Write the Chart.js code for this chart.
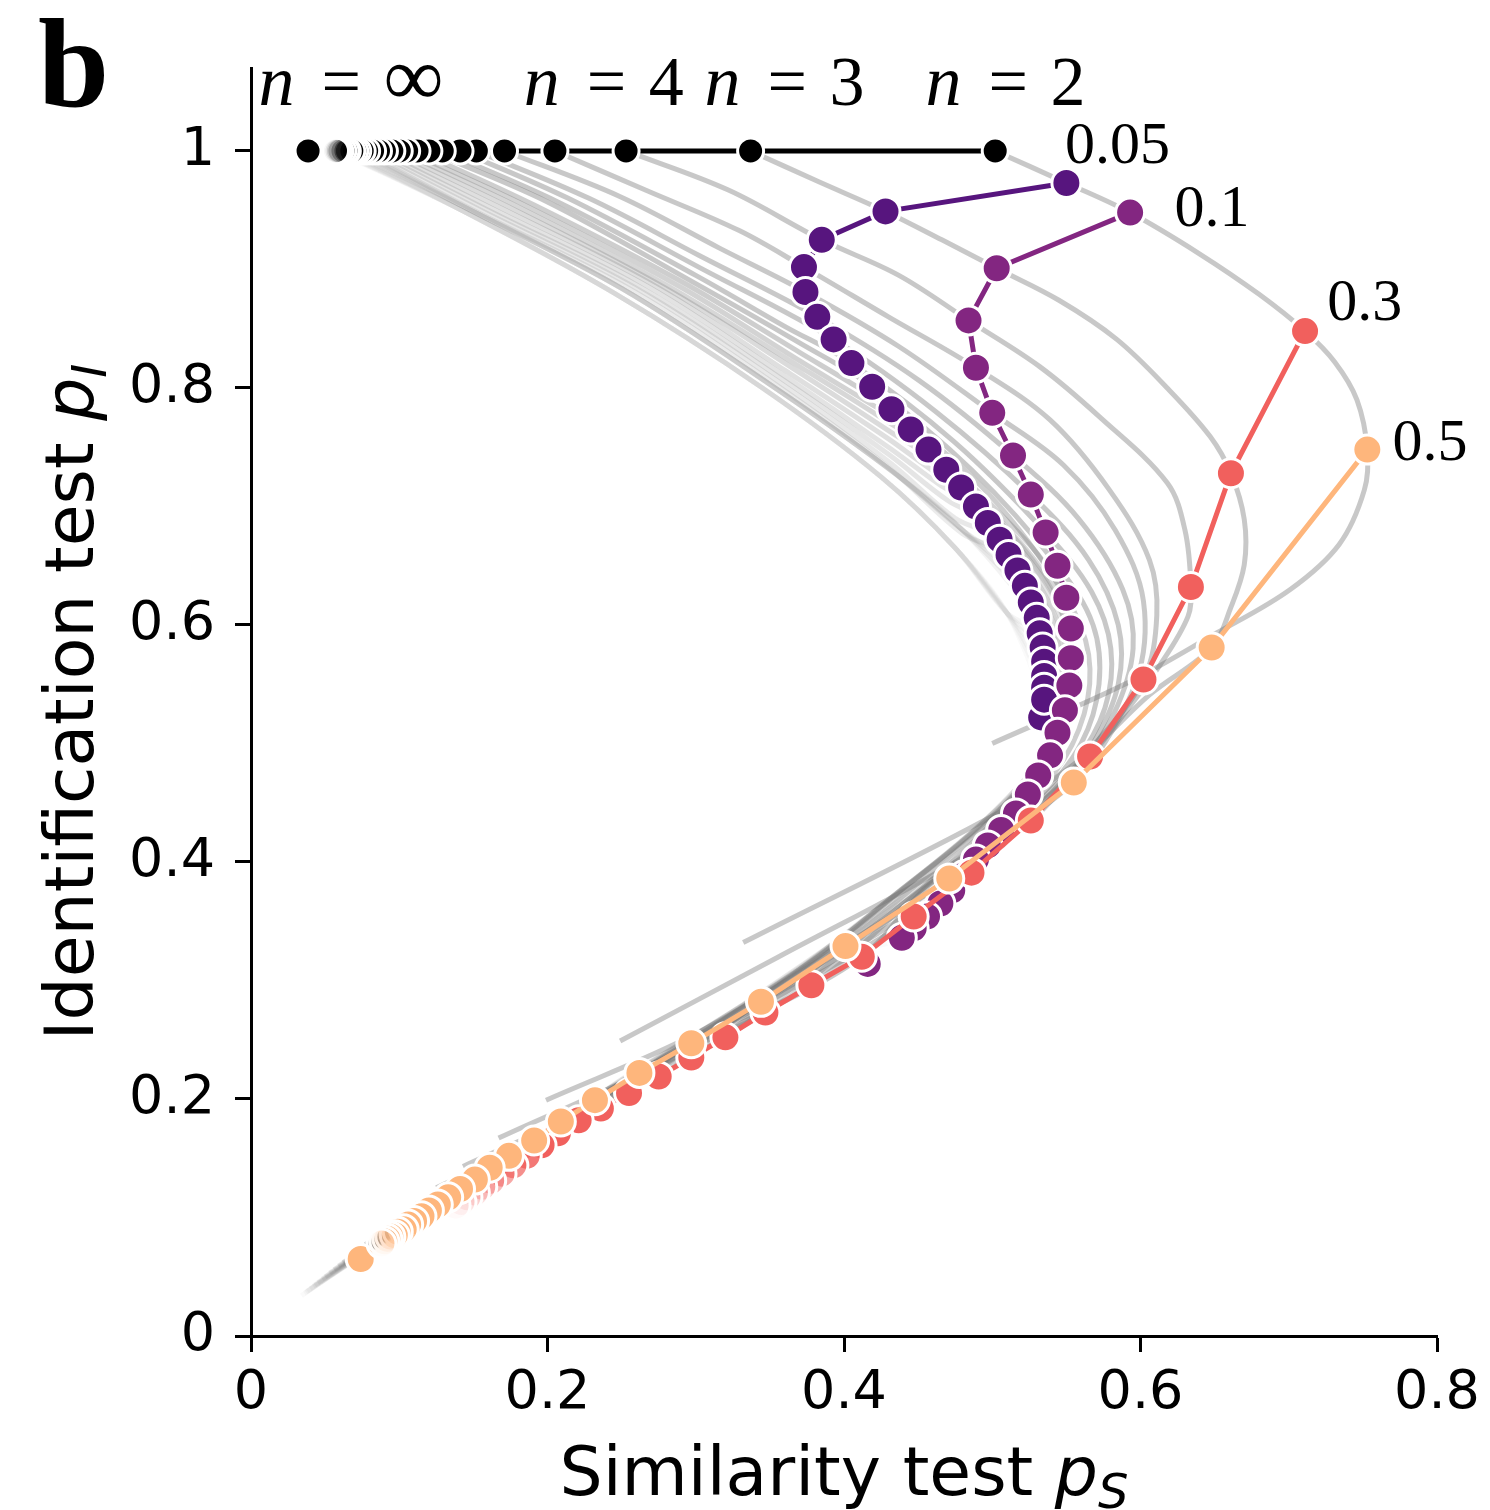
<!DOCTYPE html>
<html>
<head>
<meta charset="utf-8">
<script src="https://cdn.jsdelivr.net/npm/chart.js@4.4.1/dist/chart.umd.min.js"></script>
<style>
  html, body { margin: 0; padding: 0; background: #fff; }
  canvas { display: block; }
</style>
</head>
<body>
<canvas id="c" width="1490" height="1510"></canvas>
<script>
// ---- data: one point per number of alternatives n = 2 ... 29 ----
const nValues = [2,3,4,5,6,7,8,9,10,11,12,13,14,15,16,17,18,19,20,21,22,23,24,25,26,27,28,29];

// noise 0 (black row at p_I = 1)
const psClean = [0.502,0.337,0.253,0.205,0.171,0.152,0.141,0.129,0.120,0.112,0.105,0.100,0.095,0.090,0.086,0.082,0.078,0.075,0.072,0.070,0.068,0.065,0.064,0.062,0.060,0.059,0.058,0.057];
const piClean = [1,1,1,1,1,1,1,1,1,1,1,1,1,1,1,1,1,1,1,1,1,1,1,1,1,1,1,1];

// noise 0.05
const ps005 = [0.550,0.428,0.385,0.373,0.374,0.382,0.393,0.405,0.419,0.432,0.445,0.457,0.469,0.479,0.489,0.497,0.505,0.511,0.517,0.522,0.526,0.530,0.532,0.534,0.535,0.535,0.535,0.535];
const pi005 = [0.973,0.949,0.925,0.902,0.881,0.860,0.841,0.821,0.801,0.782,0.765,0.748,0.731,0.716,0.700,0.686,0.672,0.659,0.646,0.633,0.619,0.606,0.593,0.581,0.569,0.557,0.547,0.537];

// noise 0.1
const ps01 = [0.593,0.503,0.484,0.489,0.500,0.514,0.526,0.536,0.544,0.550,0.553,0.553,0.552,0.549,0.544,0.539,0.531,0.524,0.516,0.506,0.497,0.489,0.481,0.473,0.465,0.456,0.447,0.439];
const pi01 = [0.948,0.901,0.857,0.817,0.779,0.743,0.710,0.678,0.650,0.623,0.597,0.572,0.549,0.528,0.509,0.490,0.473,0.457,0.441,0.427,0.414,0.402,0.389,0.376,0.365,0.354,0.344,0.336];

// noise 0.3
const ps03 = [0.711,0.661,0.634,0.602,0.566,0.526,0.486,0.447,0.412,0.378,0.347,0.320,0.297,0.275,0.255,0.236,0.221,0.207,0.196,0.186,0.177,0.169,0.162,0.156,0.151,0.146,0.142,0.138];
const pi03 = [0.848,0.728,0.632,0.554,0.489,0.435,0.391,0.354,0.320,0.296,0.273,0.252,0.235,0.219,0.205,0.192,0.182,0.171,0.161,0.152,0.144,0.137,0.131,0.126,0.121,0.117,0.113,0.110];

// noise 0.5
const ps05 = [0.753,0.648,0.555,0.471,0.401,0.344,0.297,0.262,0.232,0.209,0.191,0.174,0.161,0.151,0.141,0.133,0.126,0.120,0.115,0.110,0.106,0.103,0.099,0.097,0.094,0.092,0.090,0.088];
const pi05 = [0.748,0.581,0.467,0.386,0.329,0.282,0.247,0.222,0.199,0.181,0.165,0.152,0.142,0.132,0.124,0.117,0.111,0.106,0.101,0.097,0.094,0.090,0.088,0.085,0.084,0.082,0.080,0.078];

// limiting points (n = infinity)
const infClean = [0.0385, 1];
const inf005 = [0.533, 0.522];
const inf01 = [0.416, 0.314];
const inf05 = [0.074, 0.065];

// each grey curve follows one n as the noise grows from 0 to 1;
// via points between the plotted noise levels, then the curve end
const viaA = [
  [],
  [[0.383,0.974]],
  [[0.322,0.967]],
  [[0.268,0.966],[0.329,0.933]],
  [[0.248,0.962],[0.316,0.918]],
  [[0.228,0.960],[0.302,0.912]],
  [[0.214,0.960],[0.302,0.902]],
  [[0.207,0.957],[0.300,0.895],[0.360,0.852]],
  [[0.200,0.957],[0.300,0.888],[0.370,0.838]],
  [[0.190,0.955],[0.290,0.890],[0.370,0.830],[0.410,0.800]],
  [[0.185,0.954],[0.290,0.885],[0.370,0.823],[0.420,0.785]],
  [[0.180,0.953],[0.280,0.887],[0.370,0.818],[0.425,0.775]],
  [[0.175,0.952],[0.280,0.884],[0.370,0.813],[0.430,0.764]],
  [[0.170,0.951],[0.270,0.888],[0.360,0.815],[0.430,0.757],[0.460,0.730]],
  [[0.165,0.950],[0.270,0.884],[0.360,0.810],[0.430,0.750],[0.465,0.718]],
  [[0.160,0.950],[0.260,0.887],[0.360,0.806],[0.430,0.744],[0.470,0.705]],
  [[0.155,0.950],[0.260,0.884],[0.355,0.806],[0.430,0.738],[0.475,0.690]],
  [[0.150,0.950],[0.255,0.884],[0.355,0.802],[0.430,0.733],[0.480,0.677]],
  [[0.148,0.950],[0.250,0.884],[0.350,0.803],[0.430,0.732],[0.480,0.680]],
  [[0.148,0.950],[0.250,0.884],[0.350,0.803],[0.430,0.732],[0.480,0.680]],
  [[0.148,0.950],[0.250,0.884],[0.350,0.803],[0.430,0.732],[0.480,0.680]],
  [[0.148,0.950],[0.250,0.884],[0.350,0.803],[0.430,0.732],[0.480,0.680]],
  [[0.145,0.948],[0.245,0.880],[0.345,0.800],[0.425,0.725],[0.475,0.665],[0.510,0.610]],
  [[0.145,0.948],[0.245,0.880],[0.345,0.800],[0.425,0.725],[0.475,0.665],[0.510,0.610]],
  [[0.145,0.948],[0.245,0.880],[0.345,0.800],[0.425,0.725],[0.475,0.665],[0.510,0.610]],
  [[0.145,0.948],[0.245,0.880],[0.345,0.800],[0.425,0.725],[0.475,0.665],[0.510,0.610]],
  [[0.145,0.948],[0.245,0.880],[0.345,0.800],[0.425,0.725],[0.475,0.665],[0.510,0.610]],
  [[0.145,0.948],[0.245,0.880],[0.345,0.800],[0.425,0.725],[0.475,0.665],[0.510,0.610]]
];
const viaB = [
  [],
  [[0.466,0.925]],
  [[0.437,0.895]],
  [[0.430,0.860]],
  [[0.437,0.835]],
  [[0.451,0.806]],
  [[0.462,0.780]],
  [[0.474,0.755]],
  [[0.486,0.731]],
  [[0.498,0.710]],
  [[0.510,0.688],[0.540,0.643]],
  [[0.520,0.668],[0.547,0.617]],
  [[0.527,0.655],[0.550,0.600]],
  [[0.532,0.643],[0.553,0.585]],
  [[0.535,0.633],[0.553,0.570]],
  [[0.537,0.622],[0.552,0.558]],
  [[0.540,0.612],[0.551,0.548],[0.546,0.505]],
  [[0.541,0.603],[0.550,0.540],[0.542,0.495]],
  [[0.542,0.595],[0.549,0.532],[0.537,0.482]],
  [[0.543,0.588],[0.548,0.526],[0.532,0.470]],
  [[0.544,0.580],[0.547,0.520],[0.526,0.458]],
  [[0.545,0.572],[0.546,0.514],[0.520,0.447]],
  [[0.546,0.560],[0.544,0.506],[0.514,0.436]],
  [[0.546,0.550],[0.542,0.498],[0.508,0.426]],
  [[0.546,0.540],[0.540,0.490],[0.502,0.416]],
  [[0.545,0.530],[0.537,0.482],[0.496,0.406]],
  [[0.544,0.520],[0.534,0.474],[0.490,0.397]],
  [[0.543,0.512],[0.530,0.466],[0.484,0.388]]
];
const viaC = [
  [[0.640,0.913],[0.680,0.879]],
  [[0.545,0.874],[0.584,0.841],[0.618,0.800],[0.647,0.759]],
  [[0.532,0.818],[0.572,0.776],[0.618,0.720],[0.630,0.680]],
  [[0.539,0.773],[0.579,0.714],[0.606,0.655],[0.611,0.608]],
  [[0.548,0.735],[0.583,0.680],[0.602,0.620],[0.597,0.552]],
  [[0.558,0.690],[0.588,0.630],[0.595,0.580],[0.582,0.525],[0.555,0.475]],
  [[0.565,0.655],[0.585,0.600],[0.585,0.550],[0.568,0.500],[0.540,0.455],[0.512,0.420]],
  [[0.567,0.628],[0.580,0.580],[0.576,0.530],[0.555,0.482],[0.522,0.440],[0.485,0.400]],
  [[0.568,0.600],[0.572,0.550],[0.560,0.500],[0.532,0.455],[0.495,0.415],[0.455,0.378]],
  [[0.565,0.575],[0.562,0.525],[0.542,0.475],[0.505,0.430],[0.460,0.385]],
  [[0.556,0.550],[0.540,0.500],[0.510,0.447],[0.470,0.397],[0.410,0.335]],
  [[0.552,0.530],[0.530,0.482],[0.500,0.437],[0.450,0.382],[0.390,0.320]],
  [[0.545,0.510],[0.520,0.467],[0.480,0.418],[0.430,0.367],[0.370,0.304]],
  [[0.538,0.490],[0.510,0.452],[0.470,0.408],[0.420,0.358],[0.350,0.290]],
  [[0.525,0.470],[0.490,0.428],[0.440,0.378],[0.380,0.318],[0.320,0.268]],
  [[0.515,0.456],[0.480,0.418],[0.430,0.368],[0.370,0.308],[0.300,0.252]],
  [[0.505,0.442],[0.460,0.397],[0.400,0.338],[0.330,0.278],[0.280,0.238]],
  [[0.490,0.424],[0.440,0.378],[0.380,0.318],[0.310,0.262],[0.260,0.223]],
  [[0.480,0.410],[0.430,0.365],[0.360,0.302],[0.290,0.247],[0.240,0.208]],
  [[0.470,0.398],[0.420,0.354],[0.350,0.293],[0.280,0.239],[0.230,0.199]],
  [[0.460,0.386],[0.400,0.335],[0.330,0.276],[0.260,0.223],[0.220,0.191]],
  [[0.450,0.375],[0.390,0.326],[0.320,0.268],[0.250,0.215],[0.210,0.183]],
  [[0.440,0.366],[0.380,0.316],[0.310,0.260],[0.240,0.207],[0.200,0.175]],
  [[0.430,0.356],[0.370,0.308],[0.300,0.252],[0.230,0.199],[0.195,0.170]],
  [[0.420,0.347],[0.360,0.300],[0.290,0.244],[0.225,0.195],[0.190,0.166]],
  [[0.410,0.338],[0.350,0.291],[0.280,0.237],[0.220,0.191],[0.185,0.162]],
  [[0.400,0.330],[0.340,0.283],[0.270,0.229],[0.215,0.187],[0.180,0.158]],
  [[0.390,0.322],[0.330,0.275],[0.260,0.221],[0.210,0.183],[0.175,0.154]]
];
const viaD = [
  [[0.731,0.822],[0.746,0.790]],
  [[0.670,0.689],[0.670,0.651],[0.661,0.615]],
  [[0.632,0.607],[0.613,0.566],[0.586,0.520]],
  [[0.566,0.495],[0.518,0.431]],
  [[0.505,0.423],[0.457,0.381]],
  [[0.437,0.357]],
  [[0.397,0.320]],
  [[0.356,0.287]],
  [[0.329,0.263]],
  [[0.300,0.251]],
  [[0.270,0.229]],
  [[0.245,0.210]],
  [[0.225,0.194]],
  [[0.210,0.182]],
  [[0.195,0.170]],
  [[0.182,0.160]],
  [[0.172,0.152]],
  [[0.163,0.144]],
  [[0.155,0.137]],
  [],[],[],[],[],[],[],[],[]
];
const viaE = [
  [[0.751,0.714],[0.734,0.668],[0.701,0.630],[0.651,0.593],[0.591,0.551]],
  [[0.606,0.541],[0.559,0.486],[0.505,0.442]],
  [[0.478,0.402],[0.356,0.320]],
  [[0.400,0.330],[0.300,0.255]],
  [[0.280,0.233]],
  [[0.240,0.200]],
  [[0.210,0.176]],
  [[0.190,0.160]],
  [[0.170,0.146]],
  [],[],[],[],[],[],[],[],[],[],[],[],[],[],[],[],[],[],[]
];
const curveEnd = [0.500,0.332,0.249,0.199,0.167,0.143,0.125,0.111,0.100,0.091,0.083,0.077,0.071,0.067,0.062,0.059,0.056,0.053,0.050,0.048,0.045,0.043,0.042,0.040,0.038,0.037,0.036,0.034];

// axis ticks and text
const tickX = [0, 0.2, 0.4, 0.6, 0.8];
const tickY = [0, 0.2, 0.4, 0.6, 0.8, 1];
const noiseLabels = ['0.05', '0.1', '0.3', '0.5'];
const noiseLabelX = [0.549, 0.623, 0.726, 0.770];
const noiseLabelY = [0.990, 0.937, 0.857, 0.739];
const nTagText = ['\u221E', '4', '3', '2'];
const nTagX = [0.007, 0.186, 0.308, 0.457];
const nTagY = 1.039;

// ---- styling ----
const colClean = '#000000';
const col005 = '#57157e';
const col01 = '#832681';
const col03 = '#f1605d';
const col05 = '#feb67c';
// markers for the largest n are drawn increasingly transparent
const tailFade = [1,1,1,1,1,1,1,1,1,1,1,1,1,1,1,1,1,1,1,0.85,0.7,0.55,0.42,0.3,0.2,0.12,0.07,0.03];
// grey curves lighten gradually with n
const greyFade = [1,1,1,1,1,1,1,1,1,0.9,0.8,0.72,0.65,0.58,0.52,0.46,0.41,0.36,0.32,0.28,0.25,0.22,0.19,0.16,0.14,0.12,0.1,0.08];

function rgba(hex, a) {
  const v = parseInt(hex.slice(1), 16);
  return `rgba(${(v >> 16) & 255},${(v >> 8) & 255},${v & 255},${a})`;
}
function pts(xs, ys) { return xs.map((x, i) => ({ x: x, y: ys[i] })); }

function greyPath(i) {
  const seq = [[psClean[i], piClean[i]], ...viaA[i], [ps005[i], pi005[i]], ...viaB[i],
    [ps01[i], pi01[i]], ...viaC[i], [ps03[i], pi03[i]], ...viaD[i],
    [ps05[i], pi05[i]], ...viaE[i], [curveEnd[i], curveEnd[i]]];
  return seq.map(p => ({ x: p[0], y: p[1] }));
}

const datasets = [];
nValues.forEach((n, i) => {
  datasets.push({
    label: 'n=' + n,
    data: greyPath(i),
    showLine: true,
    borderColor: rgba('#6e6e6e', 0.38 * greyFade[i]),
    borderWidth: 5,
    tension: 0.35,
    pointRadius: 0,
    order: 20
  });
});

function series(label, xs, ys, col, faded, order, radius, lw) {
  return {
    label: label,
    data: pts(xs, ys),
    showLine: true,
    borderColor: col,
    borderWidth: lw,
    segment: faded ? { borderColor: c => rgba(col, tailFade[c.p1DataIndex]) } : undefined,
    pointRadius: radius,
    pointBackgroundColor: xs.map((_, i) => faded ? rgba(col, tailFade[i]) : col),
    pointBorderColor: '#ffffff',
    pointBorderWidth: 3,
    tension: 0,
    order: order
  };
}
function limitPoint(label, p, col, order, radius) {
  return {
    label: label,
    data: [{ x: p[0], y: p[1] }],
    showLine: false,
    pointRadius: radius,
    pointBackgroundColor: col,
    pointBorderColor: '#ffffff',
    pointBorderWidth: 3,
    order: order
  };
}

datasets.push(series('0.05', ps005, pi005, col005, false, 5, 14.5, 5));
datasets.push(limitPoint('0.05 inf', inf005, col005, 5, 14.5));
datasets.push(series('0.1', ps01, pi01, col01, false, 4, 14.5, 5));
datasets.push(limitPoint('0.1 inf', inf01, col01, 4, 14.5));
datasets.push(series('0.3', ps03, pi03, col03, true, 3, 14.5, 5));
datasets.push(series('0.5', ps05, pi05, col05, true, 2, 14.5, 5));
datasets.push(limitPoint('0.5 inf', inf05, col05, 2, 14.5));
datasets.push(series('0', psClean, piClean, colClean, true, 1, 13, 5));
datasets.push(limitPoint('0 inf', infClean, colClean, 1, 13));

// ---- text drawn on top of the plot ----
const textLayer = {
  id: 'textLayer',
  afterDraw(chart) {
    const c = chart.ctx, xs = chart.scales.x, ys = chart.scales.y;
    c.save();
    c.fillStyle = '#000';
    c.textBaseline = 'alphabetic';
    c.textAlign = 'left';

    // panel letter
    c.font = 'bold 128px "Liberation Serif"';
    c.fillText('b', 38, 106);

    // n = ... labels above the noise-free row
    nTagText.forEach((t, i) => {
      const x0 = xs.getPixelForValue(nTagX[i]);
      const y0 = ys.getPixelForValue(nTagY);
      c.font = 'italic 72px "Liberation Serif"';
      c.fillText('n', x0 - 3, y0);
      c.font = '70px "Liberation Serif"';
      c.fillText('=', x0 + 60, y0);
      c.font = (t === '\u221E' ? '84px' : '70px') + ' "Liberation Serif"';
      c.fillText(t, x0 + 122, y0);
    });

    // noise level labels
    c.font = '60px "Liberation Serif"';
    noiseLabels.forEach((t, i) => {
      c.fillText(t, xs.getPixelForValue(noiseLabelX[i]), ys.getPixelForValue(noiseLabelY[i]));
    });

    // axis titles with italic subscripted symbols
    function title(main, sym, sub, cx, cy) {
      c.font = '68px "DejaVu Sans"';
      const w1 = c.measureText(main).width;
      c.font = 'italic 68px "DejaVu Sans"';
      const w2 = c.measureText(sym).width;
      c.font = 'italic 48px "DejaVu Sans"';
      const w3 = c.measureText(sub).width;
      let x = cx - (w1 + w2 + w3) / 2;
      c.font = '68px "DejaVu Sans"';
      c.fillText(main, x, cy); x += w1;
      c.font = 'italic 68px "DejaVu Sans"';
      c.fillText(sym, x, cy); x += w2;
      c.font = 'italic 48px "DejaVu Sans"';
      c.fillText(sub, x, cy + 13);
    }
    title('Similarity test ', 'p', 'S', (xs.left + xs.right) / 2, 1495);
    c.save();
    c.translate(93, (ys.top + ys.bottom) / 2);
    c.rotate(-Math.PI / 2);
    title('Identification test ', 'p', 'I', 0, 0);
    c.restore();

    c.restore();
  }
};

const fmt = v => (v === 0 ? '0' : v === 1 ? '1' : v.toFixed(1));

new Chart(document.getElementById('c').getContext('2d'), {
  type: 'scatter',
  data: { datasets: datasets },
  options: {
    responsive: false,
    animation: false,
    devicePixelRatio: 1,
    layout: { padding: { top: 68, right: 53, left: 0, bottom: 0 } },
    plugins: { legend: { display: false }, tooltip: { enabled: false } },
    elements: { line: { cubicInterpolationMode: 'default' } },
    scales: {
      x: {
        type: 'linear', min: 0, max: 0.8,
        afterBuildTicks: s => { s.ticks = tickX.map(v => ({ value: v })); },
        afterFit: s => { s.height = 174; },
        grid: { drawOnChartArea: false, drawTicks: true, tickLength: 16, tickWidth: 3, tickColor: '#000' },
        border: { display: true, color: '#000', width: 3 },
        ticks: { font: { family: 'DejaVu Sans', size: 54 }, color: '#000', padding: 10, maxRotation: 0, callback: fmt }
      },
      y: {
        type: 'linear', min: 0, max: 1.07,
        afterBuildTicks: s => { s.ticks = tickY.map(v => ({ value: v })); },
        afterFit: s => { s.width = 251; },
        grid: { drawOnChartArea: false, drawTicks: true, tickLength: 16, tickWidth: 3, tickColor: '#000' },
        border: { display: true, color: '#000', width: 3 },
        ticks: { font: { family: 'DejaVu Sans', size: 54 }, color: '#000', padding: 20, callback: fmt }
      }
    }
  },
  plugins: [textLayer]
});
</script>
</body>
</html>
